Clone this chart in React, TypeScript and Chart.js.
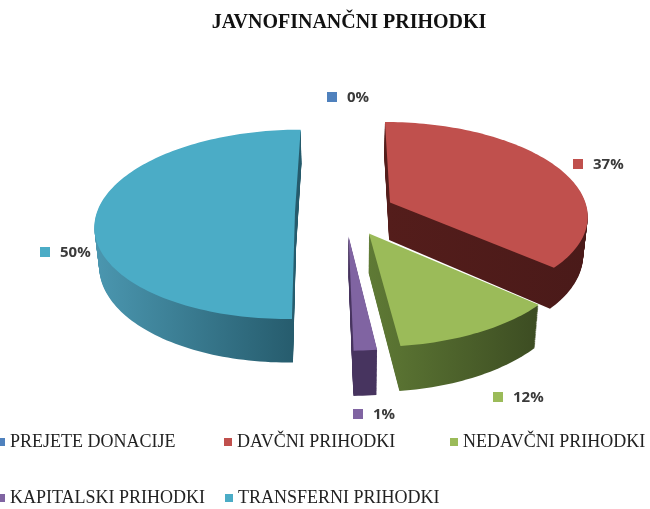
import React, { useEffect, useRef } from "react";
import { Chart, registerables } from "chart.js";

Chart.register(...registerables);

const categories = ["PREJETE DONACIJE", "DAVČNI PRIHODKI", "NEDAVČNI PRIHODKI", "KAPITALSKI PRIHODKI", "TRANSFERNI PRIHODKI"];
const shares = [0, 36.5, 11.6, 1.6, 50.3];
const shareLabels = ["0%", "37%", "12%", "1%", "50%"];
const topColors = ["#4f81bd", "#c0504d", "#9bbb59", "#8064a2", "#4bacc6"];
const wallLeft = ["#3a5f8c", "#541d1b", "#5f7a35", "#47345f", "#4b97b0"];
const wallRight = ["#3a5f8c", "#4a1a19", "#3c4c22", "#47345f", "#255a6b"];
const titleText = "JAVNOFINANČNI PRIHODKI";

const CX = 345, CY = 212, K = 0.47, D = 1550, HEIGHT = 38;
const project = (u: number, v: number, z = 0) => {
  const s = D / (D - v);
  return [CX + u * s * (1 - 0.0005 * z), CY + v * K * s + z * s];
};

const outline = (el: any) => {
  const mid = (el.startAngle + el.endAngle) / 2;
  const off = (el.options.offset || 0) / 4;
  const ox = Math.cos(mid) * off, oy = Math.sin(mid) * off;
  const pts: number[][] = [[ox, oy]];
  const steps = Math.max(4, Math.ceil((el.endAngle - el.startAngle) * 40));
  for (let i = 0; i <= steps; i++) {
    const a = el.startAngle + ((el.endAngle - el.startAngle) * i) / steps;
    pts.push([ox + Math.cos(a) * el.outerRadius, oy + Math.sin(a) * el.outerRadius]);
  }
  return pts;
};

const tracePath = (ctx: CanvasRenderingContext2D, pts: number[][], z: number) => {
  ctx.beginPath();
  pts.forEach(([u, v], i) => {
    const [x, y] = project(u, v, z);
    if (i === 0) ctx.moveTo(x, y);
    else ctx.lineTo(x, y);
  });
  ctx.closePath();
};

const pie3d = {
  id: "pie3d",
  beforeDatasetDraw(chart: any) {
    const ctx: CanvasRenderingContext2D = chart.ctx;
    const arcs = chart.getDatasetMeta(0).data;
    const order = [1, 4, 2, 3];
    ctx.save();
    order.forEach((idx) => {
      const pts = outline(arcs[idx]);
      const xs = pts.map(([u, v]) => project(u, v)[0]);
      const grad = ctx.createLinearGradient(Math.min(...xs), 0, Math.max(...xs), 0);
      grad.addColorStop(0, wallLeft[idx]);
      grad.addColorStop(1, wallRight[idx]);
      ctx.fillStyle = grad;
      for (let z = HEIGHT; z > 0; z -= 1) {
        tracePath(ctx, pts, z);
        ctx.fill();
      }
      ctx.fillStyle = topColors[idx];
      tracePath(ctx, pts, 0);
      ctx.fill();
    });
    ctx.restore();
    return false;
  },
};

const labelSpots = [[332, 97], [578, 164], [498, 397], [358, 414], [45, 252]];
const legendSpots = [[1, 442], [228, 442], [454, 442], [1, 498], [229, 498]];

const annotations = {
  id: "annotations",
  afterDraw(chart: any) {
    const ctx: CanvasRenderingContext2D = chart.ctx;
    ctx.save();
    ctx.textBaseline = "middle";
    ctx.textAlign = "left";
    shareLabels.forEach((label, i) => {
      const [x, y] = labelSpots[i];
      ctx.fillStyle = topColors[i];
      ctx.fillRect(x - 5, y - 5, 10, 10);
      ctx.fillStyle = "#3a3a3a";
      ctx.font = "bold 15px 'Open Sans'";
      ctx.fillText(label, x + 15, y + 1);
    });
    categories.forEach((name, i) => {
      const [x, y] = legendSpots[i];
      ctx.fillStyle = topColors[i];
      ctx.fillRect(x - 4, y - 4, 8, 8);
      ctx.fillStyle = "#222222";
      ctx.font = "18px 'Liberation Serif'";
      ctx.fillText(name, x + 9, y);
    });
    ctx.restore();
  },
};

export default function App() {
  const ref = useRef<HTMLCanvasElement>(null);
  useEffect(() => {
    document.body.style.margin = "0";
    const chart = new Chart(ref.current as HTMLCanvasElement, {
      type: "pie",
      data: {
        labels: categories,
        datasets: [{ data: shares, backgroundColor: topColors, borderWidth: 0, offset: 200 }],
      },
      options: {
        responsive: false,
        animation: false,
        radius: 198,
        layout: { padding: { left: 48 } },
        plugins: {
          legend: { display: false },
          tooltip: { enabled: false },
          title: {
            display: true,
            text: titleText,
            fullSize: false,
            color: "#111111",
            font: { family: "'Liberation Serif'", size: 20, weight: "bold" },
            padding: { top: 11, bottom: 8 },
          },
        },
      } as any,
      plugins: [pie3d, annotations],
    });
    return () => chart.destroy();
  }, []);
  return <canvas ref={ref} width={650} height={509} style={{ display: "block", filter: "blur(0.7px)" }} />;
}
